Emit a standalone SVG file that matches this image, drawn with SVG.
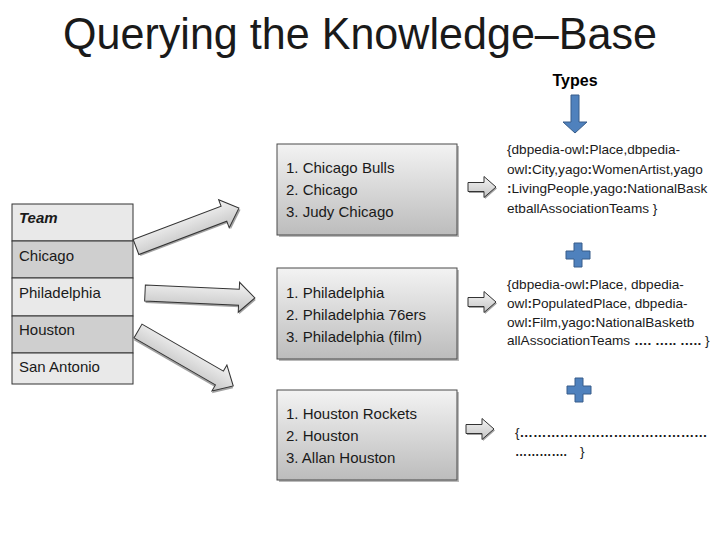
<svg xmlns="http://www.w3.org/2000/svg" width="720" height="540" viewBox="0 0 720 540">
<style>
  text { font-family: "Liberation Sans", Arial, sans-serif; fill: #1a1a1a; }
  .title { font-size: 45px; }
  .types { font-size: 16px; font-weight: bold; fill: #000; }
  .cell { font-size: 15px; }
  .item { font-size: 15px; }
  .cls { font-size: 13.6px; }
  .b { font-weight: bold; }
  .row-l { fill: #e9e9e9; stroke: #333; stroke-width: 1; }
  .row-d { fill: #cfcfcf; stroke: #333; stroke-width: 1; }
  .box { fill: url(#boxg); stroke: #4a4a4a; stroke-width: 1; }
  .boxsh { fill: #8c8c8c; opacity: 0.6; }
  .arr { fill: url(#arrg); stroke: #333; stroke-width: 1; }
  .arrsh { fill: #555; opacity: 0.55; }
  .blue { fill: #4f81bd; stroke: #385d8a; stroke-width: 1; }
</style>
<defs>
  <linearGradient id="boxg" x1="0" y1="0" x2="0" y2="1">
    <stop offset="0" stop-color="#f3f3f3"/>
    <stop offset="1" stop-color="#bcbcbc"/>
  </linearGradient>
  <linearGradient id="arrg" x1="0" y1="0" x2="0" y2="1">
    <stop offset="0" stop-color="#f4f4f4"/>
    <stop offset="1" stop-color="#c4c4c4"/>
  </linearGradient>
  <path id="bigArrow" d="M0,-8 L94,-8 L94,-15 L110,0 L94,15 L94,8 L0,8 Z"/>
  <path id="smallArrow" d="M0,-4.5 L16,-4.5 L16,-10.5 L28,0 L16,10.5 L16,4.5 L0,4.5 Z"/>
  <path id="plus" d="M-4,-12 L4,-12 L4,-4 L12,-4 L12,4 L4,4 L4,12 L-4,12 L-4,4 L-12,4 L-12,-4 L-4,-4 Z"/>
</defs>

<rect width="720" height="540" fill="#ffffff"/>

<text class="title" x="360" y="49" text-anchor="middle" textLength="594" lengthAdjust="spacingAndGlyphs">Querying the Knowledge–Base</text>

<g id="types">
  <text class="types" x="575" y="86" text-anchor="middle">Types</text>
  <path class="blue" d="M571,95 L579,95 L579,122 L587,122 L575,133 L563,122 L571,122 Z"/>
</g>

<g id="team-table">
  <rect class="row-l" x="12" y="204" width="121" height="37"/>
  <rect class="row-d" x="12" y="241" width="121" height="37"/>
  <rect class="row-l" x="12" y="278" width="121" height="38"/>
  <rect class="row-d" x="12" y="316" width="121" height="37"/>
  <rect class="row-l" x="12" y="353" width="121" height="31"/>
  <text class="cell" x="19" y="223" font-weight="bold" font-style="italic">Team</text>
  <text class="cell" x="19" y="261">Chicago</text>
  <text class="cell" x="19" y="298">Philadelphia</text>
  <text class="cell" x="19" y="335">Houston</text>
  <text class="cell" x="19" y="372">San Antonio</text>
</g>

<g id="connectors">
  <g transform="translate(136,247) rotate(-20.7)">
    <use href="#bigArrow" class="arrsh" transform="translate(1,2)"/>
    <use href="#bigArrow" class="arr"/>
  </g>
  <g transform="translate(145,293) rotate(2.6)">
    <use href="#bigArrow" class="arrsh" transform="translate(1,2)"/>
    <use href="#bigArrow" class="arr"/>
  </g>
  <g transform="translate(138,331) rotate(30)">
    <use href="#bigArrow" class="arrsh" transform="translate(1,2)"/>
    <use href="#bigArrow" class="arr"/>
  </g>
  <g transform="translate(468,187)">
    <use href="#smallArrow" class="arrsh" transform="translate(1,1.5)"/>
    <use href="#smallArrow" class="arr"/>
  </g>
  <g transform="translate(468,302)">
    <use href="#smallArrow" class="arrsh" transform="translate(1,1.5)"/>
    <use href="#smallArrow" class="arr"/>
  </g>
  <g transform="translate(466,429)">
    <use href="#smallArrow" class="arrsh" transform="translate(1,1.5)"/>
    <use href="#smallArrow" class="arr"/>
  </g>
</g>

<g id="result-chicago">
  <rect class="boxsh" x="279" y="146" width="180" height="91"/>
  <rect class="box" x="277" y="144" width="180" height="91"/>
  <text class="item" x="286" y="173">1. Chicago Bulls</text>
  <text class="item" x="286" y="195">2. Chicago</text>
  <text class="item" x="286" y="217">3. Judy Chicago</text>
</g>

<g id="result-philadelphia">
  <rect class="boxsh" x="279" y="270" width="180" height="91"/>
  <rect class="box" x="277" y="268" width="180" height="91"/>
  <text class="item" x="286" y="298">1. Philadelphia</text>
  <text class="item" x="286" y="320">2. Philadelphia 76ers</text>
  <text class="item" x="286" y="342">3. Philadelphia (film)</text>
</g>

<g id="result-houston">
  <rect class="boxsh" x="279" y="392" width="180" height="90"/>
  <rect class="box" x="277" y="390" width="180" height="90"/>
  <text class="item" x="286" y="419">1. Houston Rockets</text>
  <text class="item" x="286" y="441">2. Houston</text>
  <text class="item" x="286" y="463">3. Allan Houston</text>
</g>

<g id="types-chicago">
  <text class="cls" x="507" y="154">{dbpedia-owl<tspan class="b">:</tspan>Place,dbpedia-</text>
  <text class="cls" x="507" y="173.5">owl<tspan class="b">:</tspan>City,yago<tspan class="b">:</tspan>WomenArtist,yago</text>
  <text class="cls" x="507" y="193"><tspan class="b">:</tspan>LivingPeople,yago<tspan class="b">:</tspan>NationalBask</text>
  <text class="cls" x="507" y="212.5">etballAssociationTeams }</text>
</g>

<g id="plus-1">
  <use href="#plus" class="blue" transform="translate(578,255)"/>
</g>

<g id="types-philadelphia">
  <text class="cls" x="507" y="289">{dbpedia-owl<tspan class="b">:</tspan>Place, dbpedia-</text>
  <text class="cls" x="507" y="308">owl<tspan class="b">:</tspan>PopulatedPlace, dbpedia-</text>
  <text class="cls" x="507" y="327">owl<tspan class="b">:</tspan>Film,yago<tspan class="b">:</tspan>NationalBasketb</text>
  <text class="cls" x="507" y="345">allAssociationTeams <tspan class="b">…. ….. …..</tspan> }</text>
</g>

<g id="plus-2">
  <use href="#plus" class="blue" transform="translate(579,390)"/>
</g>

<g id="types-houston">
  <text class="cls" x="515" y="437">{<tspan class="b" textLength="188" lengthAdjust="spacingAndGlyphs">……………………………………</tspan></text>
  <text class="cls b" x="515" y="456" textLength="52" lengthAdjust="spacingAndGlyphs">………….</text>
  <text class="cls" x="580" y="456">}</text>
</g>
</svg>
